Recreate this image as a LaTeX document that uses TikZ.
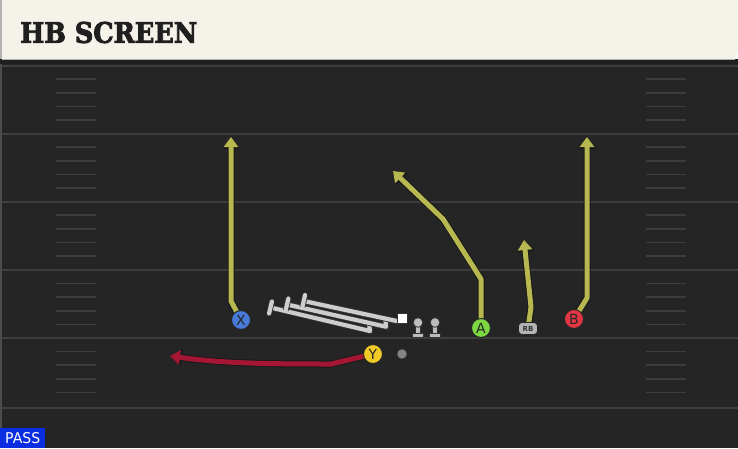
\documentclass[tikz,border=0pt]{standalone}
\usepackage{fontspec}
\setmainfont{DejaVu Sans}
\newfontfamily\hdrfont{DejaVu Serif}[FakeBold=3]
\usetikzlibrary{arrows.meta,calc}
\pgfdeclarelayer{field}
\pgfdeclarelayer{routes}
\pgfsetlayers{field,routes,main}
\definecolor{fieldbg}{RGB}{37,37,37}
\definecolor{yardline}{RGB}{62,62,62}
\definecolor{hashc}{RGB}{60,60,60}
\definecolor{cream}{RGB}{245,242,234}
\definecolor{xblue}{RGB}{72,122,218}
\definecolor{agreen}{RGB}{125,215,65}
\definecolor{bred}{RGB}{226,55,66}
\definecolor{yyel}{RGB}{242,202,40}
\definecolor{ryel}{RGB}{184,184,80}
\definecolor{rred}{RGB}{165,22,52}
\definecolor{olgray}{RGB}{205,205,205}
\definecolor{passblue}{RGB}{10,45,225}
\begin{document}
\begin{tikzpicture}[x=1pt,y=-1pt,
  player/.style={circle, draw=black!85, line width=1pt, minimum size=19pt, inner sep=0pt,
    font=\fontsize{14}{14}\selectfont, text=black!85},
  yroute/.style={line width=5pt, ryel, line join=round,
    -{Triangle[length=10pt,width=14pt]},
    preaction={draw, black!90, line width=7pt, -{Triangle[length=12pt,width=17pt]}}},
  rroute/.style={line width=5pt, rred, line join=round,
    -{Triangle[length=10pt,width=14pt]},
    preaction={draw, black!90, line width=7pt, -{Triangle[length=12pt,width=17pt]}}},
  olline/.style={line width=4.2pt, olgray, line cap=round, line join=round,
    preaction={draw, black!80, line width=6pt}},
  hashmark/.style={hashc, line width=1.6pt},
  yardl/.style={yardline, line width=2pt},
  blockt/.style={fill=olgray!92!black, draw=black!80, line width=0.8pt}
]
\useasboundingbox (0,0) rectangle (738,448);

\begin{pgfonlayer}{field}
  % field
  \fill[fieldbg] (0,59) rectangle (738,448);
  \fill[black!88] (0,59) rectangle (738,64);
  \fill[black!70] (0,64) rectangle (2,448);
  \foreach \L in {65.5,133.5,201.5,270,338,408}
    \draw[yardl] (2,\L) -- (738,\L);
  \foreach \L in {65.5,133.5,201.5,270,338}{
    \foreach \k in {1,2,3,4}{
      \draw[hashmark] (56,\L+13.6*\k) -- (96,\L+13.6*\k);
      \draw[hashmark] (646,\L+13.6*\k) -- (686,\L+13.6*\k);
    }
  }
  % header
  \fill[cream] (2,0) -- (738,0) -- (738,51) -- (735,59) -- (2,59) -- cycle;
  \fill[black!30] (0,0) rectangle (2,59);
  \draw[black!30, line width=0.8pt] (2,59) -- (735,59);
\end{pgfonlayer}

\node[anchor=west, inner sep=0pt, text=black!88] (title) at (20,32.5)
  {\resizebox{177pt}{21pt}{\hdrfont\bfseries HB SCREEN}};

% players
\node[player, fill=xblue] (X) at (241,320) {X};
\node[player, fill=agreen] (A) at (481,328) {A};
\node[player, fill=bred] (B) at (574,319) {B};
\node[player, fill=yyel] (Y) at (373,354) {Y};
\node[rounded corners=3.5pt, fill=olgray!88!black, draw=black!85, line width=0.8pt,
  minimum width=19pt, minimum height=12pt, inner sep=0pt,
  font=\fontsize{7}{7}\selectfont\bfseries, text=black!80] (RB) at (528,328.5) {RB};
\node[circle, fill=black!48, draw=black!80, line width=0.5pt, minimum size=10pt, inner sep=0pt] (ball) at (402,354) {};
\node[fill=white, draw=black!80, line width=0.7pt, minimum size=10pt, inner sep=0pt] (C) at (402,318) {};

% blocking stances
\foreach \bx in {418,435}{
  \draw[blockt] (\bx-5.5,337.5) rectangle (\bx+5.5,333);
  \draw[blockt] (\bx-2.5,333) rectangle (\bx+2.5,324);
  \draw[blockt] (\bx,322.5) circle (4.8pt);
}

% routes
\begin{pgfonlayer}{routes}
  \coordinate (x1) at (231,301);
  \coordinate (x2) at (231,137);
  \draw[yroute] (X.center) -- (x1) -- (x2);

  \coordinate (a1) at (481,279);
  \coordinate (a2) at (443,219);
  \coordinate (a3) at (393,171);
  \draw[yroute] (A.center) -- (a1) -- (a2) -- (a3);

  \coordinate (r1) at (531,307);
  \coordinate (r2) at (524,240);
  \draw[yroute] (RB.center) -- (r1) -- (r2);

  \coordinate (b1) at (587,298);
  \coordinate (b2) at (587,137);
  \draw[yroute] (B.center) -- (b1) -- (b2);

  \coordinate (y1) at (331,364);
  \coordinate (y2) at (170,356);
  \draw[rroute] (Y.center) -- (y1) .. controls (260,364) and (220,363) .. (y2);

  % offensive line blocking
  \coordinate (t3) at (270.5,307.5);
  \coordinate (h3a) at (369,323);
  \coordinate (h3b) at (370,331);
  \draw[olline] (h3a) -- (h3b) -- (t3);
  \draw[olline] ($(t3)+(1.4,-6)$) -- ($(t3)-(1.4,-6)$);

  \coordinate (t2) at (287,304.5);
  \coordinate (h2a) at (385.5,320.5);
  \coordinate (h2b) at (386,326.7);
  \draw[olline] (h2a) -- (h2b) -- (t2);
  \draw[olline] ($(t2)+(1.4,-6)$) -- ($(t2)-(1.4,-6)$);

  \coordinate (t1) at (303.7,301);
  \coordinate (h1b) at (399,321.5);
  \draw[olline] (C.center) -- (h1b) -- (t1);
  \draw[olline] ($(t1)+(1.3,-6)$) -- ($(t1)-(1.3,-6)$);
\end{pgfonlayer}

% play type label
\node[fill=passblue, anchor=south west, minimum width=45pt, minimum height=20pt, inner sep=0pt] (pass) at (0,448) {};
\node[anchor=west, inner sep=0pt, text=white] (passtxt) at (5,438.5)
  {\resizebox{35pt}{11pt}{PASS}};
\end{tikzpicture}
\end{document}
